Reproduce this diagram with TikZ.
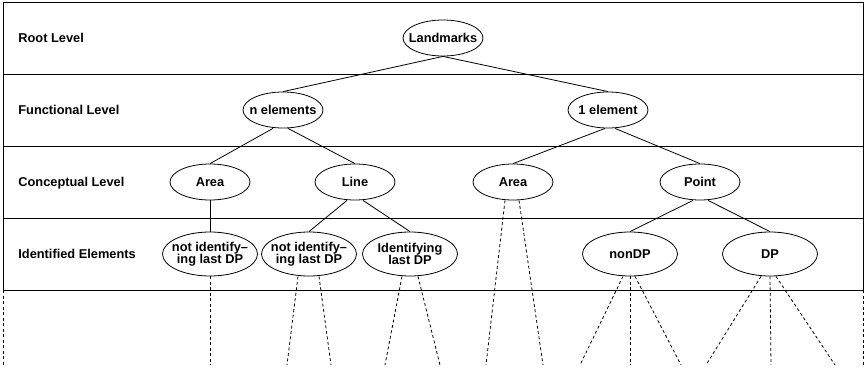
\documentclass[tikz,border=0pt]{standalone}
\usepackage{fontspec}
\setmainfont{Liberation Sans}
\usetikzlibrary{shapes.geometric}

\tikzset{
  ell/.style={ellipse,draw,line width=0.8pt,minimum width=80pt,minimum height=36pt,inner sep=0pt},
  idell/.style={ell,minimum width=95pt,minimum height=44pt},
  txt/.style={align=center,inner sep=0pt},
  lvl/.style={anchor=base west,inner sep=0pt},
  dashline/.style={line width=0.8pt,dash pattern=on 3pt off 2.5pt}
}

\begin{document}
\begin{tikzpicture}
  [x=1pt,y=-1pt,line width=0.8pt,font=\bfseries\fontsize{12.8}{12.5}\selectfont]
  \useasboundingbox (0,0) rectangle (865,369);

  % level rows
  \draw (3,2) rectangle (863,290);
  \foreach \y in {74,146,218}
    \draw (3,\y) -- (863,\y);
  \coordinate (fl) at (3,290);
  \coordinate (fr) at (863,290);
  \coordinate (fle) at (3,365);
  \coordinate (fre) at (863,365);
  \draw[dashline] (fl) -- (fle);
  \draw[dashline] (fr) -- (fre);

  \node[lvl] (root) at (18,42.5) {Root Level};
  \node[lvl] (func) at (18,114.5) {Functional Level};
  \node[lvl] (conc) at (18,186.5) {Conceptual Level};
  \node[lvl] (iden) at (18,258.5) {Identified Elements};

  % tree
  \node[ell,label={[txt]center:Landmarks}] (lm) at (443,38) {};
  \node[ell,label={[txt]center:n elements}] (nel) at (283,110) {};
  \node[ell,label={[txt]center:1 element}] (one) at (608,110) {};
  \node[ell,label={[txt]center:Area}] (areaA) at (210,182) {};
  \node[ell,label={[txt]center:Line}] (line) at (355,182) {};
  \node[ell,label={[txt]center:Area}] (areaB) at (513,182) {};
  \node[ell,label={[txt]center:Point}] (point) at (700,182) {};
  \node[idell,label={[txt]center:not identify--\\ing last DP}] (nidA) at (210,254) {};
  \node[idell,label={[txt]center:not identify--\\ing last DP}] (nidB) at (309,254) {};
  \node[idell,label={[txt]center:Identifying\\last DP}] (ident) at (410,254) {};
  \node[idell,label={[txt]center:nonDP}] (nondp) at (630,254) {};
  \node[idell,label={[txt]center:DP}] (dp) at (770,254) {};

  \path[draw]
    (lm.south) edge (nel.north)
    (lm.south) edge (one.north)
    ([xshift=-10pt]nel.south) edge (areaA.north)
    ([xshift=5pt]nel.south) edge (line.north)
    ([xshift=-3pt]one.south) edge (areaB.north)
    ([xshift=7pt]one.south) edge (point.north)
    (areaA.south) edge (nidA.north)
    ([xshift=-8pt]line.south) edge (nidB.north)
    ([xshift=8pt]line.south) edge (ident.north)
    ([xshift=-7pt]point.south) edge (nondp.north)
    ([xshift=8pt]point.south) edge (dp.north);

  % open ends
  \coordinate (a1) at (210,365);
  \coordinate (b1) at (287,365);
  \coordinate (b2) at (331,365);
  \coordinate (c1) at (385,365);
  \coordinate (c2) at (440,365);
  \coordinate (d1) at (486,365);
  \coordinate (d2) at (543,365);
  \coordinate (e1) at (580,365);
  \coordinate (e2) at (630,365);
  \coordinate (e3) at (681,365);
  \coordinate (f1) at (706,365);
  \coordinate (f2) at (771,365);
  \coordinate (f3) at (835,365);

  \path[draw,dashline]
    (nidA.south) edge (a1)
    ([xshift=-11pt]nidB.south) edge (b1)
    ([xshift=10pt]nidB.south) edge (b2)
    ([xshift=-8pt]ident.south) edge (c1)
    ([xshift=8pt]ident.south) edge (c2)
    ([xshift=-8pt]areaB.south) edge (d1)
    ([xshift=6pt]areaB.south) edge (d2)
    ([xshift=-7pt]nondp.south) edge (e1)
    (nondp.south) edge (e2)
    ([xshift=5pt]nondp.south) edge (e3)
    ([xshift=-9pt]dp.south) edge (f1)
    (dp.south) edge (f2)
    ([xshift=6pt]dp.south) edge (f3);

\end{tikzpicture}
\end{document}
